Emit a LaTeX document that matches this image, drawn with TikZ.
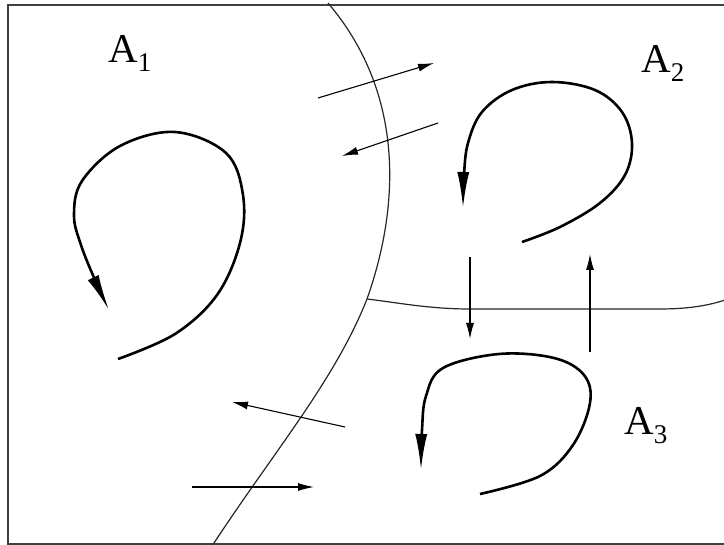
\documentclass[tikz,border=0pt]{standalone}
\usepackage{fontspec}
\setmainfont{Liberation Serif}
\usetikzlibrary{arrows.meta}
\tikzset{
  bound/.style={line width=1.2pt, black!85},
  flux/.style={line width=1.1pt, -{Latex[length=16pt,width=8pt]}},
  loopc/.style={line width=2.6pt, -{Latex[length=36pt,width=12pt]}},
  lbl/.style={inner sep=0pt, anchor=base west, font=\fontsize{41}{41}\selectfont},
}
\newcommand{\subsc}[1]{\raisebox{-9pt}{\fontsize{27}{27}\selectfont #1}}
\begin{document}
\begin{tikzpicture}[x=1pt,y=-1pt]
\useasboundingbox (0,0) rectangle (724,545);
\draw[line width=1.6pt, black!75] (8,5) rectangle (726,544);
% boundaries
\coordinate (b1) at (328,3);
\coordinate (b2) at (367,299);
\coordinate (b3) at (212,546);
\coordinate (b4) at (725,300);
\draw[bound] (b1) .. controls (402,90) and (402,200) .. (b2) .. controls (335,380) and (275,450) .. (b3);
\draw[bound] (b2) .. controls (400,303) and (430,309) .. (470,309) -- (660,309) .. controls (690,309) and (710,305) .. (b4);
% flux arrows
\coordinate (f1a) at (318,98); \coordinate (f1b) at (434,63);
\coordinate (f2a) at (438,123); \coordinate (f2b) at (342,156);
\coordinate (f3a) at (345,427); \coordinate (f3b) at (232,402);
\coordinate (f4a) at (192,487); \coordinate (f4b) at (314,487);
\coordinate (f5a) at (470,257); \coordinate (f5b) at (470,339);
\coordinate (f6a) at (590,352); \coordinate (f6b) at (590,254);
\draw[flux] (f1a) -- (f1b);
\draw[flux] (f2a) -- (f2b);
\draw[flux] (f3a) -- (f3b);
\draw[flux] (f4a) -- (f4b);
\draw[flux] (f5a) -- (f5b);
\draw[flux] (f6a) -- (f6b);
% loops
\draw[loopc] plot[smooth, tension=0.6] coordinates {(118,359) (175,334) (217,295) (240,243) (243,195) (226,153) (175,132) (120,146) (82,181) (74,215) (81,245) (95,280) (109,310)};
\draw[loopc] plot[smooth, tension=0.6] coordinates {(522,242) (560,227) (600,203) (625,175) (632,143) (622,112) (595,90) (552,82) (512,90) (482,112) (468,143) (464,175) (463,208)};
\draw[loopc] plot[smooth, tension=0.6] coordinates {(480,494) (540,476) (573,445) (590,403) (584,375) (554,358) (499,354) (443,368) (426,396) (422,430) (421,470)};
% labels
\node[lbl] (a1) at (108,63) {A\subsc{1}};
\node[lbl] (a2) at (641,73) {A\subsc{2}};
\node[lbl] (a3) at (624,435) {A\subsc{3}};
\end{tikzpicture}
\end{document}
